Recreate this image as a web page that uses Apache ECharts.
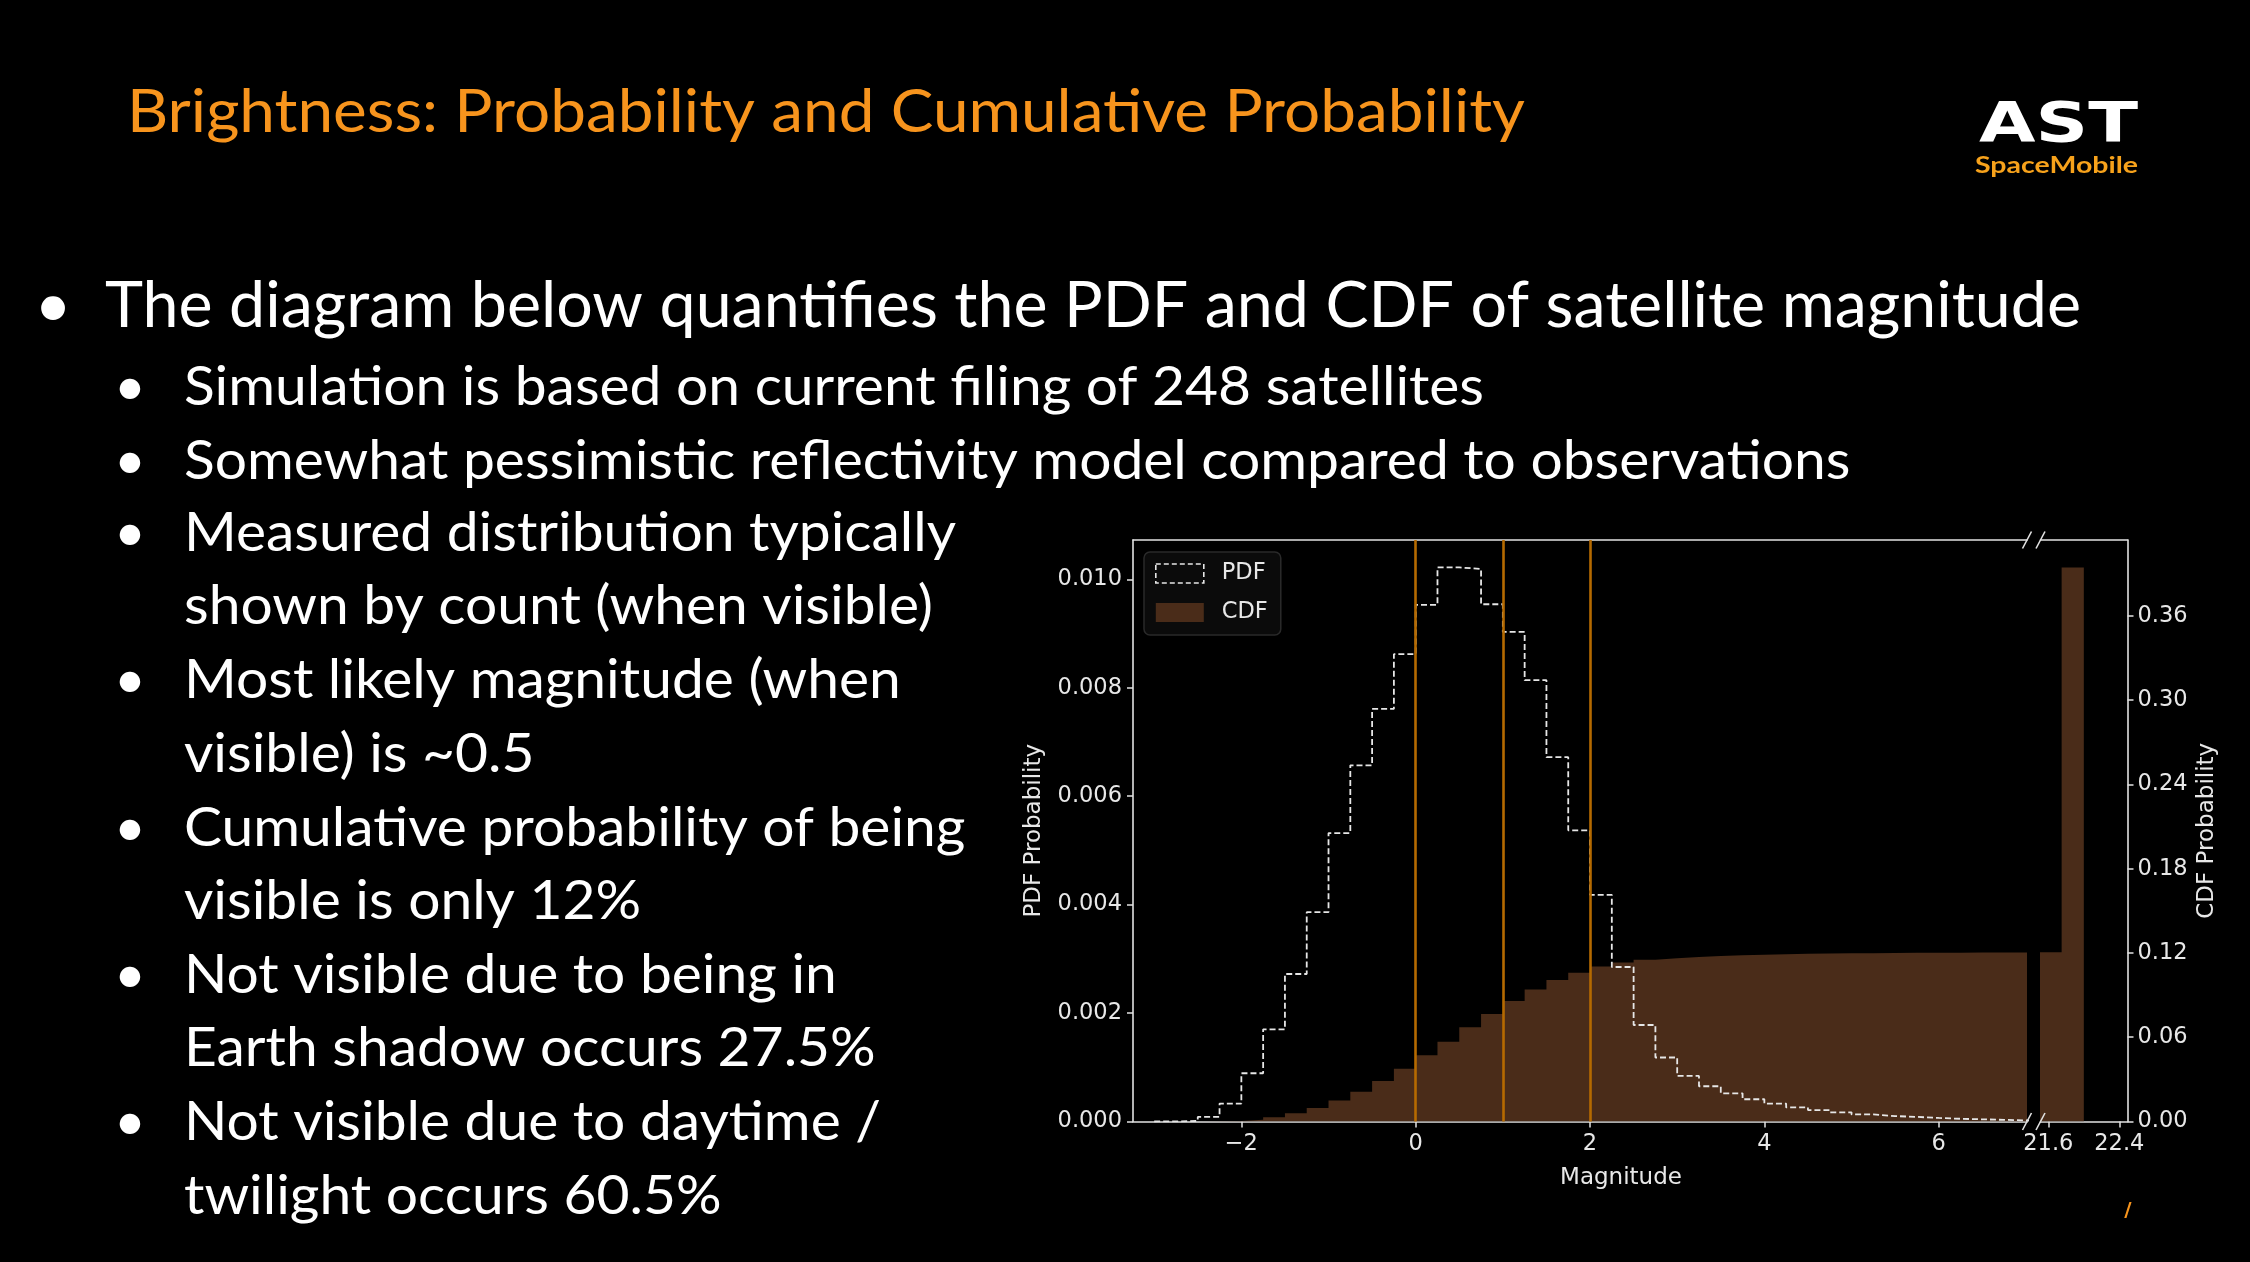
<!DOCTYPE html>
<html>
<head>
<meta charset="utf-8">
<script src="https://cdn.jsdelivr.net/npm/echarts@6/dist/echarts.min.js"></script>
<style>
html,body{margin:0;padding:0;background:#000;}
#chart{width:2250px;height:1262px;}
</style>
</head>
<body>
<div id="chart"></div>
<script>
// ================= DATA =================
const nearBinEdges = [-3, -2.75, -2.5, -2.25, -2, -1.75, -1.5, -1.25, -1, -0.75, -0.5, -0.25,
  0, 0.25, 0.5, 0.75, 1, 1.25, 1.5, 1.75, 2, 2.25, 2.5, 2.75, 3, 3.25, 3.5, 3.75,
  4, 4.25, 4.5, 4.75, 5, 5.25, 5.5, 5.75, 6, 6.25, 6.5, 6.75, 7, 7.25];
const pdfNear = [0.000002, 0.00001, 0.000085, 0.00033, 0.00089, 0.0017, 0.00272, 0.00386,
  0.00532, 0.00657, 0.00761, 0.00862, 0.00953, 0.01022, 0.01019, 0.00954, 0.00903, 0.00814,
  0.00672, 0.00537, 0.00418, 0.00285, 0.00178, 0.00118, 0.00084, 0.00065, 0.00052, 0.00041,
  0.00033, 0.00026, 0.00021, 0.00017, 0.00013, 0.0001, 0.000085, 0.000066, 0.00005, 0.00004,
  0.00003, 0.00002, 0.00001];
const cdfNear = [0, 0.00001, 0.0001, 0.0004, 0.0013, 0.003, 0.0058, 0.0096, 0.015, 0.0212,
  0.0288, 0.0375, 0.0472, 0.0568, 0.0672, 0.0766, 0.0858, 0.094, 0.1008, 0.106, 0.1103,
  0.1133, 0.1151, 0.1163, 0.1172, 0.1178, 0.1184, 0.1188, 0.1191, 0.1194, 0.1196, 0.1198,
  0.1199, 0.12, 0.1201, 0.1202, 0.1202, 0.1203, 0.1203, 0.1204, 0.1204];
const farBinEdges = [21.5, 21.75, 22.0];
const cdfFar = [0.1205, 0.3945];
const thresholdMagnitudes = [0, 1, 2];
const xTicksNear = [-2, 0, 2, 4, 6];
const xTicksFar = [21.6, 22.4];
const pdfTicks = [0, 0.002, 0.004, 0.006, 0.008, 0.010];
const cdfTicks = [0, 0.06, 0.12, 0.18, 0.24, 0.30, 0.36];
const nearXRange = [-3.243, 7.013];
const farXRange = [21.512, 22.492];
const pdfMax = 0.010725;
const cdfMax = 0.4141;
const legendNames = ['PDF', 'CDF'];
const xAxisTitle = 'Magnitude';
const pdfAxisTitle = 'PDF Probability';
const cdfAxisTitle = 'CDF Probability';

// ================= STYLE =================
const AX = '#e2e2e2';
const TXT = '#e8e8e8';
const CDF_COLOR = '#4a2c19';
const PDF_COLOR = '#e6e6e6';
const ORANGE_LINE = '#b56a00';
const FONT = 'DejaVu Sans';
const TICK_FS = 22.5;

function stepPoints(edges, vals, closeToZero) {
  const pts = [];
  if (closeToZero) pts.push([edges[0], 0]);
  for (let i = 0; i < vals.length; i++) pts.push([edges[i], vals[i]]);
  pts.push([edges[vals.length], vals[vals.length - 1]]);
  if (closeToZero) pts.push([edges[vals.length], 0]);
  return pts;
}
const fmtX = v => (v < 0 ? '\u2212' + Math.abs(v) : String(v));

function xAxisBottom(gridIndex, range, ticks) {
  return {
    type: 'value', gridIndex, position: 'bottom', min: range[0], max: range[1],
    axisLine: { show: true, onZero: false, lineStyle: { color: AX, width: 1.6 } },
    axisTick: { show: true, length: 6, customValues: ticks, lineStyle: { color: AX, width: 1.5 } },
    axisLabel: { customValues: ticks, formatter: fmtX, color: TXT, fontSize: TICK_FS, fontFamily: FONT, margin: 11 },
    splitLine: { show: false }
  };
}
function xAxisTop(gridIndex, range) {
  return {
    type: 'value', gridIndex, position: 'top', min: range[0], max: range[1],
    axisLine: { show: true, onZero: false, lineStyle: { color: AX, width: 1.6 } },
    axisTick: { show: false }, axisLabel: { show: false }, splitLine: { show: false }
  };
}

const option = {
  backgroundColor: '#000',
  animation: false,
  grid: [
    { left: 1133, top: 540, width: 894, height: 581.5, outerBoundsMode: 'none' },
    { left: 2040.5, top: 540, width: 87, height: 581.5, outerBoundsMode: 'none' }
  ],
  xAxis: [
    xAxisBottom(0, nearXRange, xTicksNear),
    xAxisTop(0, nearXRange),
    xAxisBottom(1, farXRange, xTicksFar),
    xAxisTop(1, farXRange)
  ],
  yAxis: [
    {
      type: 'value', gridIndex: 0, position: 'left', min: 0, max: pdfMax,
      name: pdfAxisTitle, nameLocation: 'middle', nameRotate: 90, nameGap: 87,
      nameTextStyle: { color: TXT, fontSize: 23, fontFamily: FONT },
      axisLine: { show: true, onZero: false, lineStyle: { color: AX, width: 1.6 } },
      axisTick: { show: true, length: 6, customValues: pdfTicks, lineStyle: { color: AX, width: 1.5 } },
      axisLabel: { customValues: pdfTicks, formatter: v => v.toFixed(3), color: TXT, fontSize: TICK_FS, fontFamily: FONT, margin: 11 },
      splitLine: { show: false }
    },
    { type: 'value', gridIndex: 0, position: 'right', min: 0, max: cdfMax, show: false, splitLine: { show: false } },
    {
      type: 'value', gridIndex: 1, position: 'right', min: 0, max: cdfMax,
      name: cdfAxisTitle, nameLocation: 'middle', nameRotate: 90, nameGap: 68,
      nameTextStyle: { color: TXT, fontSize: 23, fontFamily: FONT },
      axisLine: { show: true, onZero: false, lineStyle: { color: AX, width: 1.6 } },
      axisTick: { show: true, length: 6, customValues: cdfTicks, lineStyle: { color: AX, width: 1.5 } },
      axisLabel: { customValues: cdfTicks, formatter: v => v.toFixed(2), color: TXT, fontSize: TICK_FS, fontFamily: FONT, margin: 10 },
      splitLine: { show: false }
    }
  ],
  legend: {
    left: 1144, top: 552, orient: 'vertical', selectedMode: false,
    itemWidth: 48, itemHeight: 19, itemGap: 16,
    padding: [10, 13, 11, 11],
    backgroundColor: 'rgba(12,12,12,0.95)', borderColor: '#2a2a2a', borderWidth: 1.5, borderRadius: 6,
    textStyle: { color: TXT, fontSize: 22.5, fontFamily: FONT, padding: [0, 0, 0, 13] },
    data: [
      { name: legendNames[0], icon: 'rect', itemStyle: { color: 'rgba(0,0,0,0)', borderColor: PDF_COLOR, borderWidth: 1.6, borderType: [5, 3] } },
      { name: legendNames[1], icon: 'rect', itemStyle: { color: CDF_COLOR, borderWidth: 0 } }
    ]
  },
  series: [
    {
      name: legendNames[1], type: 'line', xAxisIndex: 0, yAxisIndex: 1, step: 'end',
      data: stepPoints(nearBinEdges, cdfNear, true), symbol: 'none', showSymbol: false, silent: true,
      lineStyle: { width: 0, opacity: 0 }, areaStyle: { color: CDF_COLOR, opacity: 1 }, itemStyle: { color: CDF_COLOR }, z: 1
    },
    {
      name: legendNames[1], type: 'line', xAxisIndex: 2, yAxisIndex: 2, step: 'end',
      data: stepPoints(farBinEdges, cdfFar, true), symbol: 'none', showSymbol: false, silent: true,
      lineStyle: { width: 0, opacity: 0 }, areaStyle: { color: CDF_COLOR, opacity: 1 }, itemStyle: { color: CDF_COLOR }, z: 1
    },
    {
      name: 'thresholds', type: 'line', xAxisIndex: 0, yAxisIndex: 0,
      data: thresholdMagnitudes.map(v => [v, 0]), symbol: 'none', showSymbol: false, silent: true,
      lineStyle: { opacity: 0, width: 0 }, z: 2,
      markLine: {
        silent: true, symbol: ['none', 'none'], label: { show: false },
        lineStyle: { color: ORANGE_LINE, width: 2.6, type: 'solid' },
        emphasis: { disabled: true },
        data: thresholdMagnitudes.map(v => ({ xAxis: v }))
      }
    },
    {
      name: legendNames[0], type: 'line', xAxisIndex: 0, yAxisIndex: 0, step: 'end',
      data: stepPoints(nearBinEdges, pdfNear, true), symbol: 'none', showSymbol: false, silent: true,
      lineStyle: { color: PDF_COLOR, width: 1.8, type: [6, 3] }, itemStyle: { color: PDF_COLOR }, z: 3
    }
  ]
};

const chart = echarts.init(document.getElementById('chart'), null, { renderer: 'canvas' });
chart.setOption(option);

// ================= SLIDE TEXT & DECORATION =================
const mctx = document.createElement('canvas').getContext('2d');
function textWidth(text, size, family, weight) {
  mctx.font = (weight || 'normal') + ' ' + size + 'px "' + family + '"';
  return mctx.measureText(text).width;
}
const SLIDE_FONT = 'Lato';
const titleText = 'Brightness: Probability and Cumulative Probability';
const mainBullet = 'The diagram below quantifies the PDF and CDF of satellite magnitude';
const subBullets = [
  ['Simulation is based on current filing of 248 satellites'],
  ['Somewhat pessimistic reflectivity model compared to observations'],
  ['Measured distribution typically', 'shown by count (when visible)'],
  ['Most likely magnitude (when', 'visible) is ~0.5'],
  ['Cumulative probability of being', 'visible is only 12%'],
  ['Not visible due to being in', 'Earth shadow occurs 27.5%'],
  ['Not visible due to daytime /', 'twilight occurs 60.5%']
];

const els = [];
function addText(text, x, capCenterY, size, color, family, weight, targetW, align) {
  const sx = targetW ? targetW / textWidth(text, size, family, weight) : 1;
  els.push({
    type: 'text', x: x, y: capCenterY + size * 0.06, scaleX: sx, silent: true,
    style: { text: text, fill: color, fontSize: size, fontFamily: family, fontWeight: weight || 'normal',
             align: align || 'left', verticalAlign: 'middle' }
  });
  return sx;
}
// title
addText(titleText, 127, 108.7, 60, '#f7941d', SLIDE_FONT, 'normal', 1398);
// logo
addText('AST', 1979, 123, 56, '#ffffff', 'DejaVu Sans', 'bold', 159);
addText('SpaceMobile', 1975, 164, 23, '#f7a21b', 'Lato', 'bold', 163);
// main bullet
addText('\u2022', 53, 303, 64, '#ffffff', SLIDE_FONT, 'normal', 0, 'center');
addText(mainBullet, 105, 302.5, 64, '#ffffff', SLIDE_FONT, 'normal', 1976);
// sub bullets
const subSize = 55;
const subScale = 1300 / textWidth(subBullets[0][0], subSize, SLIDE_FONT, 'normal');
const subY = [384, 457.5, 529.5, 602.7, 677.3, 750.5, 825, 898, 971.5, 1044.7, 1119, 1192.5];
let li = 0;
subBullets.forEach(group => {
  group.forEach((line, k) => {
    const y = subY[li++];
    if (k === 0) addText('\u2022', 130, y, subSize, '#ffffff', SLIDE_FONT, 'normal', 0, 'center');
    const w = textWidth(line, subSize, SLIDE_FONT, 'normal') * subScale;
    addText(line, 184, y, subSize, '#ffffff', SLIDE_FONT, 'normal', w);
  });
});
// x-axis title
els.push({ type: 'text', x: 1621, y: 1178, silent: true,
  style: { text: xAxisTitle, fill: TXT, fontSize: 23, fontFamily: FONT, align: 'center', verticalAlign: 'middle' } });
// small orange page mark
els.push({ type: 'text', x: 2128, y: 1211, silent: true,
  style: { text: '/', fill: '#f7941d', fontSize: 20, fontWeight: 'bold', fontFamily: 'DejaVu Sans', align: 'center', verticalAlign: 'middle' } });

// axis-break marks, positioned through the axes
const xBreakL = chart.convertToPixel({ xAxisIndex: 0 }, nearXRange[1]);
const xBreakR = chart.convertToPixel({ xAxisIndex: 2 }, farXRange[0]);
const yTop = chart.convertToPixel({ yAxisIndex: 0 }, pdfMax);
const yBot = chart.convertToPixel({ yAxisIndex: 0 }, 0);
[xBreakL, xBreakR].forEach(x => {
  [yTop, yBot].forEach(y => {
    els.push({ type: 'line', silent: true, z: 10,
      shape: { x1: x - 4.5, y1: y + 8.5, x2: x + 4.5, y2: y - 8.5 },
      style: { stroke: AX, lineWidth: 1.6 } });
  });
});

chart.setOption({ graphic: { elements: els } });
</script>
</body>
</html>
